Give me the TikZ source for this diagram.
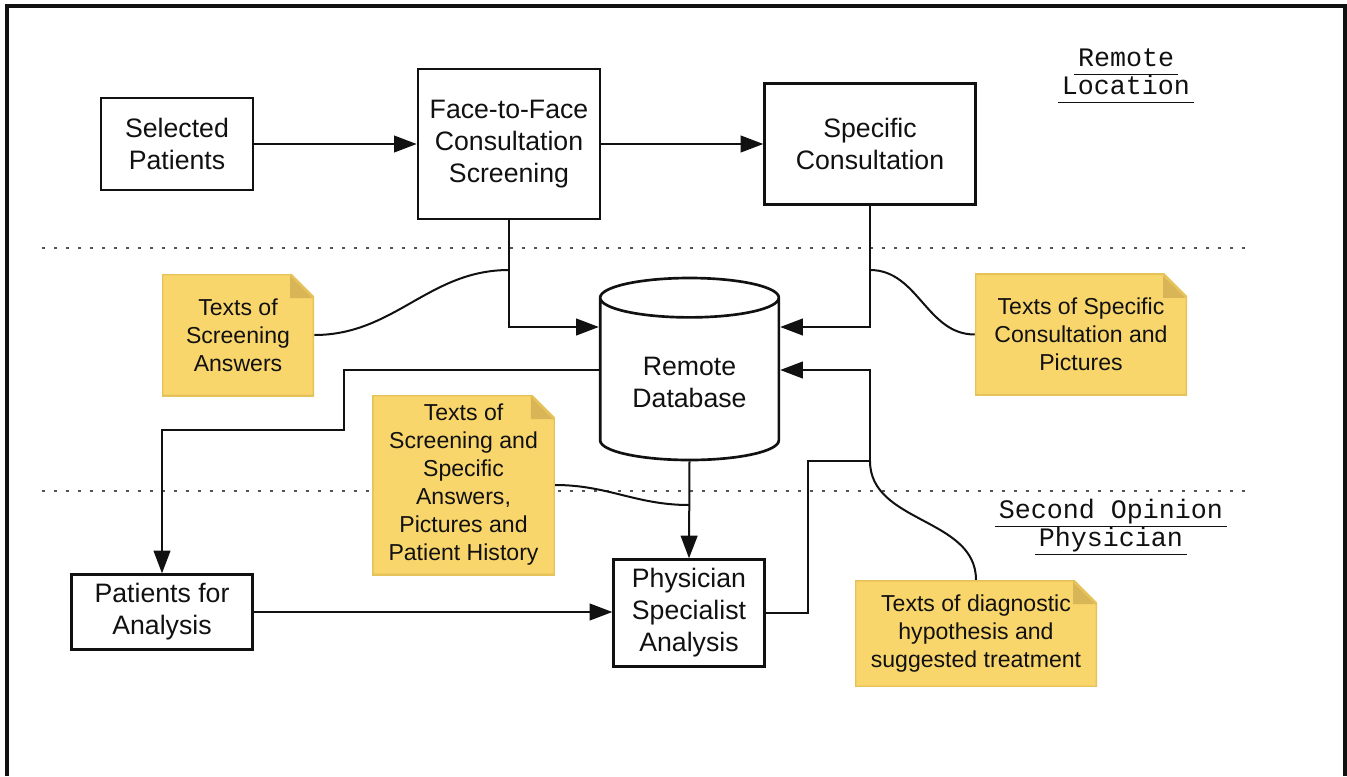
\documentclass[tikz,border=0pt]{standalone}
\usepackage{fontspec}
\setmainfont{Liberation Sans}
\setmonofont{Liberation Mono}
\usetikzlibrary{arrows.meta,shapes.geometric}
\definecolor{ink}{HTML}{111111}
\definecolor{laneGray}{HTML}{555555}
\definecolor{noteFill}{HTML}{F9D66B}
\definecolor{noteEdge}{HTML}{E6C25A}
\definecolor{noteFold}{HTML}{D8B658}
\newcommand{\laneTitle}[1]{\underline{\vphantom{y}\hspace{3pt}#1\hspace{3pt}}}
\tikzset{
  box/.style={draw=ink,line width=2pt,fill=white,text=ink,align=center,
    inner sep=4pt,font=\fontsize{20}{24}\selectfont},
  dbase/.style={cylinder,shape border rotate=90,aspect=0.32,draw=ink,
    line width=2pt,fill=white,text=ink,align=center,
    font=\fontsize{20}{24}\selectfont},
  memo/.style={fill=noteFill,text=ink,align=center,inner sep=4pt,
    font=\fontsize{17.3}{21}\selectfont,
    path picture={
      \path (path picture bounding box.south west) coordinate (sw)
        (path picture bounding box.north east) coordinate (ne);
      \fill[white] ([xshift=-18pt]ne) -- (ne) -- ([yshift=-18pt]ne) -- cycle;
      \fill[noteFold] ([xshift=-18pt]ne) -- ([xshift=-18pt,yshift=-18pt]ne)
        -- ([yshift=-18pt]ne) -- cycle;
      \draw[noteEdge,line width=2pt] (sw) -| ([yshift=-18pt]ne)
        -- ([xshift=-18pt]ne) -| (sw) -- cycle;
    }},
  flow/.style={-{Triangle[length=17pt,width=12.5pt]},draw=ink,line width=1.5pt},
  link/.style={draw=ink,line width=1.5pt},
  lane/.style={draw=laneGray,line width=2pt,dash pattern=on 2pt off 7pt},
  laneLabel/.style={align=center,text=ink,font=\ttfamily\fontsize{20}{21}\selectfont}
}
\begin{document}
\begin{tikzpicture}[x=0.75pt,y=0.75pt]
  \useasboundingbox (0,0) rectangle (1347,-776);
  \draw[ink,line width=2.5pt] (7,-776) |- (1345,-6) -- (1345,-776);

  % swim lane separators
  \draw[lane] (42,-248) -- (1252,-248);
  \draw[lane] (42,-491) -- (1252,-491);

  \node[laneLabel] (remoteLbl) at (1126,-76)
    {\laneTitle{Remote}\\\laneTitle{Location}};
  \node[laneLabel] (secondLbl) at (1111,-527)
    {\laneTitle{Second Opinion}\\\laneTitle{Physician}};

  % process boxes
  \node[box,minimum width=114pt,minimum height=69pt] (selPat) at (177,-144)
    {Selected\\Patients};
  \node[box,minimum width=136.5pt,minimum height=112.5pt] (faceScr) at (509,-144)
    {Face-to-Face\\Consultation\\Screening};
  \node[box,minimum width=158pt,minimum height=91pt] (specCons) at (870,-144)
    {Specific\\Consultation};
  \node[dbase,minimum width=134pt,minimum height=136.5pt,anchor=shape center]
    (remoteDb) at (689.5,-369) {Remote\\Database};
  \node[box,minimum width=136pt,minimum height=56pt] (patAna) at (162,-612)
    {Patients for\\Analysis};
  \node[box,minimum width=113pt,minimum height=80pt] (physAna) at (689,-613)
    {Physician\\Specialist\\Analysis};

  % notes
  \node[memo,minimum width=114pt,minimum height=91.5pt] (scrNote) at (238,-335)
    {Texts of\\Screening\\Answers};
  \node[memo,minimum width=159pt,minimum height=91pt] (specNote) at (1081,-334.5)
    {Texts of Specific\\Consultation and\\Pictures};
  \node[memo,minimum width=137pt,minimum height=135pt] (histNote) at (463.5,-485)
    {Texts of\\Screening and\\Specific\\Answers,\\Pictures and\\Patient History};
  \node[memo,minimum width=181.5pt,minimum height=80pt] (diagNote) at (976,-633.5)
    {Texts of diagnostic\\hypothesis and\\suggested treatment};

  % flows
  \coordinate (scrIn) at (remoteDb.west |- 0,-327);
  \coordinate (specIn) at (remoteDb.east |- 0,-327);
  \coordinate (anaOut) at (remoteDb.west |- 0,-370);
  \coordinate (diagIn) at (remoteDb.east |- 0,-370);
  \coordinate (diagJoin) at (870,-461);
  \draw[flow] (selPat) -- (faceScr);
  \draw[flow] (faceScr) -- (specCons);
  \draw[flow] (faceScr.south) |- (scrIn);
  \draw[flow] (specCons.south) |- (specIn);
  \draw[flow] (anaOut) -| (344,-430) -| (patAna.north);
  \draw[flow] (remoteDb.south) -- (physAna.north);
  \draw[flow] (patAna.east) -- (patAna.east -| physAna.west);
  \draw[flow] (physAna.east) -| (808,-461) -- (diagJoin) |- (diagIn);

  % note links
  \coordinate (scrJoin) at (faceScr.south |- 0,-270);
  \coordinate (specJoin) at (specCons.south |- 0,-270);
  \coordinate (histJoin) at (physAna.north |- 0,-505);
  \draw[link] (scrNote.east) to[out=0,in=180] (scrJoin);
  \draw[link] (specNote.west) to[out=180,in=0] (specJoin);
  \draw[link] (histNote.east) to[out=0,in=180] (histJoin);
  \draw[link] (diagNote.north) to[out=90,in=-90] (diagJoin);
\end{tikzpicture}
\end{document}
